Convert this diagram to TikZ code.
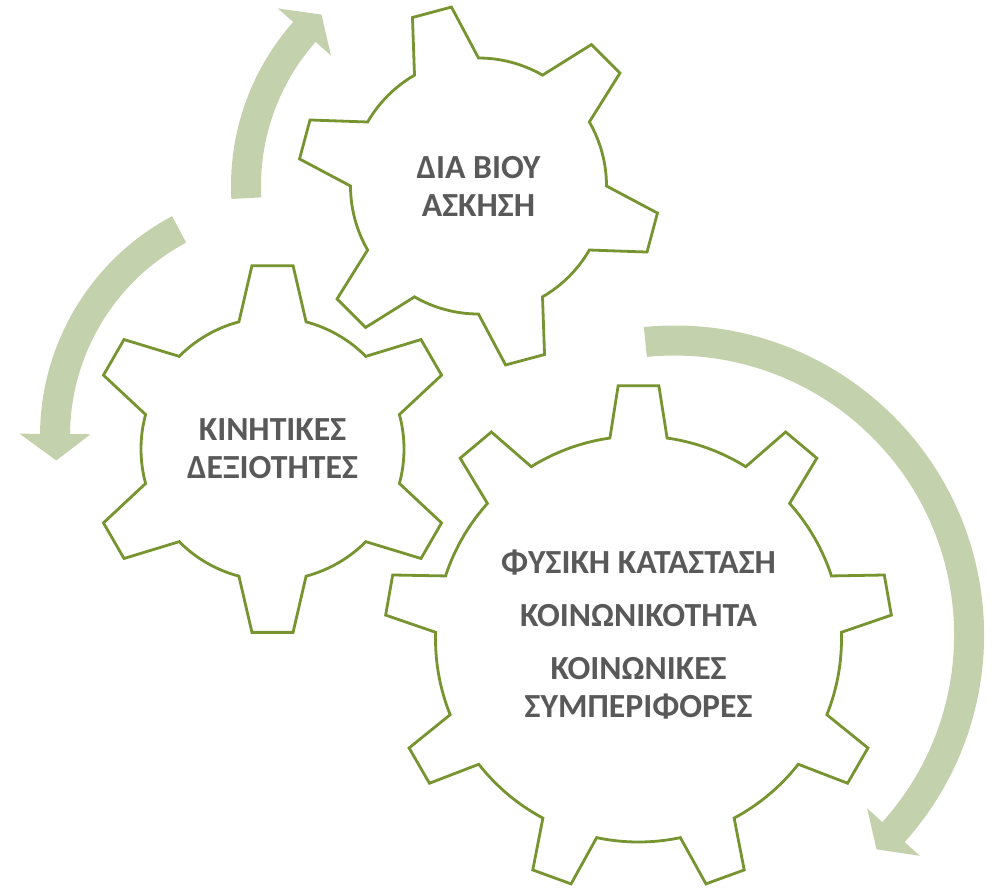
\documentclass[tikz,border=0pt]{standalone}
\usepackage{fontspec}
\setmainfont{Carlito}
\usepackage{xcolor}
\usepackage{tikz}
\definecolor{gearline}{RGB}{118, 148, 48}
\definecolor{arrowfill}{RGB}{195, 210, 172}
\definecolor{labeltext}{RGB}{89, 89, 89}
\tikzset{
    gear/.style={draw=gearline, line width=2.1pt, line join=miter, fill=white},
    cyclearrow/.style={fill=arrowfill, draw=none},
    geartext/.style={text=labeltext, align=center, inner sep=0pt, font=\bfseries\fontsize{25.3}{28.5}\selectfont}
}
% #1 centre, #2 teeth, #3 tip radius, #4 root radius, #5 tip half angle, #6 root half angle, #7 first tooth angle
\newcommand{\gearshape}[7]{%
    \pgfmathtruncatemacro\lastt{#2-2}
    \pgfmathsetmacro\lasta{#7+(#2-1)*360/#2}
    \draw[gear, shift={#1}] ({#7-#5}:#3)
        \foreach \t [evaluate=\t as \a using #7+\t*360/#2] in {0,...,\lastt} {
            -- ({\a+#5}:#3) -- ({\a+#6}:#4)
            arc[start angle={\a+#6}, end angle={\a+360/#2-#6}, radius=#4]
            -- ({\a+360/#2-#5}:#3)
        }
        -- ({\lasta+#5}:#3) -- ({\lasta+#6}:#4)
        arc[start angle={\lasta+#6}, end angle={\lasta+360/#2-#6}, radius=#4] -- cycle;
}
% #1 centre, #2 mid radius, #3 start angle, #4 head base angle, #5 tip angle
\newcommand{\cyclearrowshape}[5]{%
    \fill[cyclearrow, shift={#1}] ({#3}:{#2+15}) arc[start angle=#3, end angle=#4, radius={#2+15}]
        -- ({#4}:{#2+35.5}) -- ({#5}:{#2}) -- ({#4}:{#2-35.5}) -- ({#4}:{#2-15})
        arc[start angle=#4, end angle=#3, radius={#2-15}] -- cycle;
}

\begin{document}
\begin{tikzpicture}[x=0.75pt, y=0.75pt]
\useasboundingbox (0,0) rectangle (995,-890);

% Centres
\coordinate (ctop) at (478.5,-186);
\coordinate (cleft) at (272.5,-449);
\coordinate (cbig) at (638.5,-639);

% Arrows
\cyclearrowshape{(478.5,-186)}{232.5}{183}{138.5}{132.5}
\cyclearrowshape{(289,-436)}{234}{118}{179.5}{186}
\cyclearrowshape{(674.6,-635)}{294.5}{95.7}{-42}{-46.7}

% Gears
\gearshape{(ctop)}{6}{181}{128}{6.4}{15}{105}
\gearshape{(cleft)}{6}{184.5}{131.5}{6.4}{14.8}{90}
\gearshape{(cbig)}{9}{254}{203}{4.6}{8.1}{90}

% Nodes
\node[geartext] (lifelong) at (ctop) {ΔΙΑ ΒΙΟΥ\\ΑΣΚΗΣΗ};
\node[geartext] (motor) at (cleft) {ΚΙΝΗΤΙΚΕΣ\\ΔΕΞΙΟΤΗΤΕΣ};
\node[geartext, yshift=3pt] (outcomes) at (cbig) {ΦΥΣΙΚΗ ΚΑΤΑΣΤΑΣΗ\\[11.25pt]ΚΟΙΝΩΝΙΚΟΤΗΤΑ\\[11.25pt]ΚΟΙΝΩΝΙΚΕΣ\\ΣΥΜΠΕΡΙΦΟΡΕΣ};

\end{tikzpicture}
\end{document}
